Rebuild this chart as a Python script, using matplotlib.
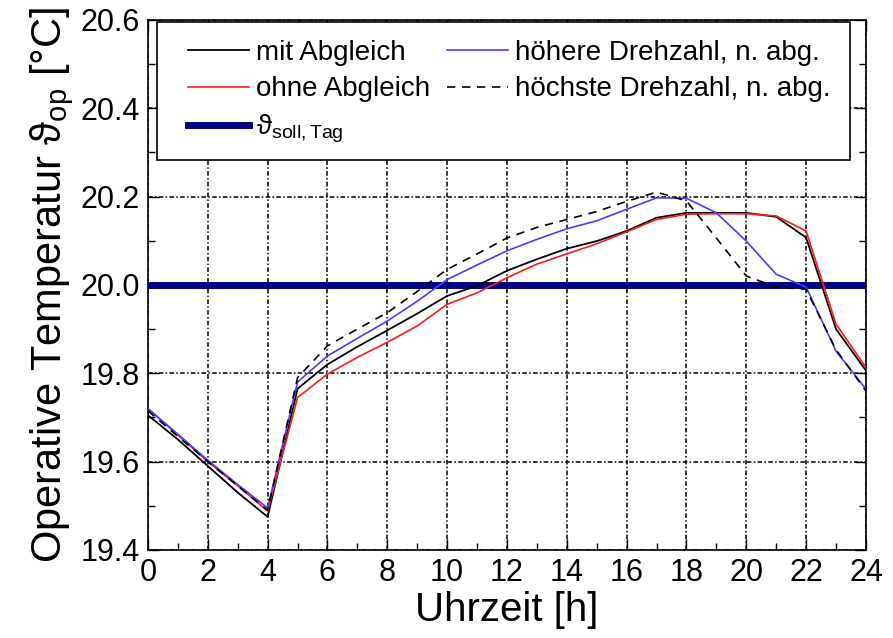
import matplotlib
matplotlib.use('Agg')
import matplotlib.pyplot as plt
from matplotlib.patches import Rectangle
from matplotlib.ticker import MultipleLocator
import numpy as np

plt.rcParams['font.family'] = ['Liberation Sans', 'DejaVu Sans']
plt.rcParams['mathtext.fontset'] = 'custom'
plt.rcParams['mathtext.rm'] = 'Liberation Sans'
plt.rcParams['mathtext.it'] = 'Liberation Sans:italic'

hours = np.arange(0, 25)

mit_abgleich = [19.705, 19.65, 19.59, 19.53, 19.475, 19.765, 19.82, 19.86, 19.897,
                19.935, 19.975, 19.998, 20.032, 20.058, 20.082, 20.099, 20.122,
                20.152, 20.163, 20.163, 20.163, 20.154, 20.107, 19.90, 19.806]
ohne_abgleich = [19.72, 19.66, 19.60, 19.545, 19.488, 19.745, 19.798, 19.836, 19.87,
                 19.907, 19.956, 19.982, 20.016, 20.047, 20.07, 20.093, 20.12,
                 20.148, 20.16, 20.161, 20.161, 20.156, 20.122, 19.911, 19.813]
hoehere_drehzahl = [19.72, 19.662, 19.603, 19.548, 19.495, 19.78, 19.839, 19.879, 19.918,
                    19.963, 20.012, 20.045, 20.077, 20.103, 20.127, 20.145, 20.171,
                    20.197, 20.196, 20.163, 20.099, 20.024, 19.995, 19.85, 19.764]
hoechste_drehzahl = [19.715, 19.657, 19.60, 19.545, 19.49, 19.79, 19.862, 19.90, 19.937,
                     19.985, 20.035, 20.07, 20.106, 20.13, 20.148, 20.166, 20.189,
                     20.21, 20.19, 20.106, 20.02, 19.995, 19.99, 19.853, 19.76]
soll_tag = 20.0

fig = plt.figure(figsize=(8.93, 6.38), dpi=100)
ax = fig.add_axes([0.1657, 0.138, 0.804, 0.831])

ax.plot(hours, mit_abgleich, color='black', lw=1.3, label='mit Abgleich', zorder=4)
ax.plot(hours, ohne_abgleich, color='#ff1a1a', lw=1.2, label='ohne Abgleich', zorder=4)
ax.axhline(soll_tag, color='#000080', lw=5,
           label=r'$\mathrm{\vartheta}_{\mathrm{soll,Tag}}$', zorder=3)
ax.plot(hours, hoehere_drehzahl, color='#4a3cff', lw=1.2, label='höhere Drehzahl, n. abg.', zorder=4)
ax.plot(hours, hoechste_drehzahl, color='black', lw=1.2, ls=(0, (5, 4)),
        label='höchste Drehzahl, n. abg.', zorder=4)

ax.set_xlim(0, 24)
ax.set_ylim(19.4, 20.6)
ax.xaxis.set_major_locator(MultipleLocator(2))
ax.xaxis.set_minor_locator(MultipleLocator(1))
ax.yaxis.set_major_locator(MultipleLocator(0.2))
ax.yaxis.set_minor_locator(MultipleLocator(0.1))
ax.yaxis.set_major_formatter(matplotlib.ticker.FormatStrFormatter('%.1f'))
ax.tick_params(which='both', direction='in', top=True, right=True, width=1.0)
ax.tick_params(which='major', length=8, labelsize=22, pad=6)
ax.tick_params(which='minor', length=5)
for sp in ax.spines.values():
    sp.set_linewidth(1.2)

ax.grid(True, which='major', color='black', lw=1.1, ls=(0, (3, 1.5, 1, 1.5)), zorder=1)
ax.set_axisbelow(True)

ax.set_xlabel('Uhrzeit [h]', fontsize=29, labelpad=2)
ax.set_ylabel(r'Operative Temperatur $\mathrm{\vartheta}_{\mathrm{op}}$ [°C]', fontsize=30, labelpad=3)

# white box behind the legend so grid lines stop at its edge
ax.add_patch(Rectangle((0.0125, 0.736), 0.965, 0.26, transform=ax.transAxes,
                       facecolor='white', edgecolor='black', lw=1.2, zorder=5))
leg = ax.legend(ncol=2, loc='upper left', bbox_to_anchor=(0.056, 0.962),
                frameon=False, fontsize=20, handlelength=2.2, handletextpad=0.25,
                columnspacing=0.6, labelspacing=0.38, borderpad=0, borderaxespad=0)
leg.set_zorder(6)

fig.savefig('out.png', dpi=100)
